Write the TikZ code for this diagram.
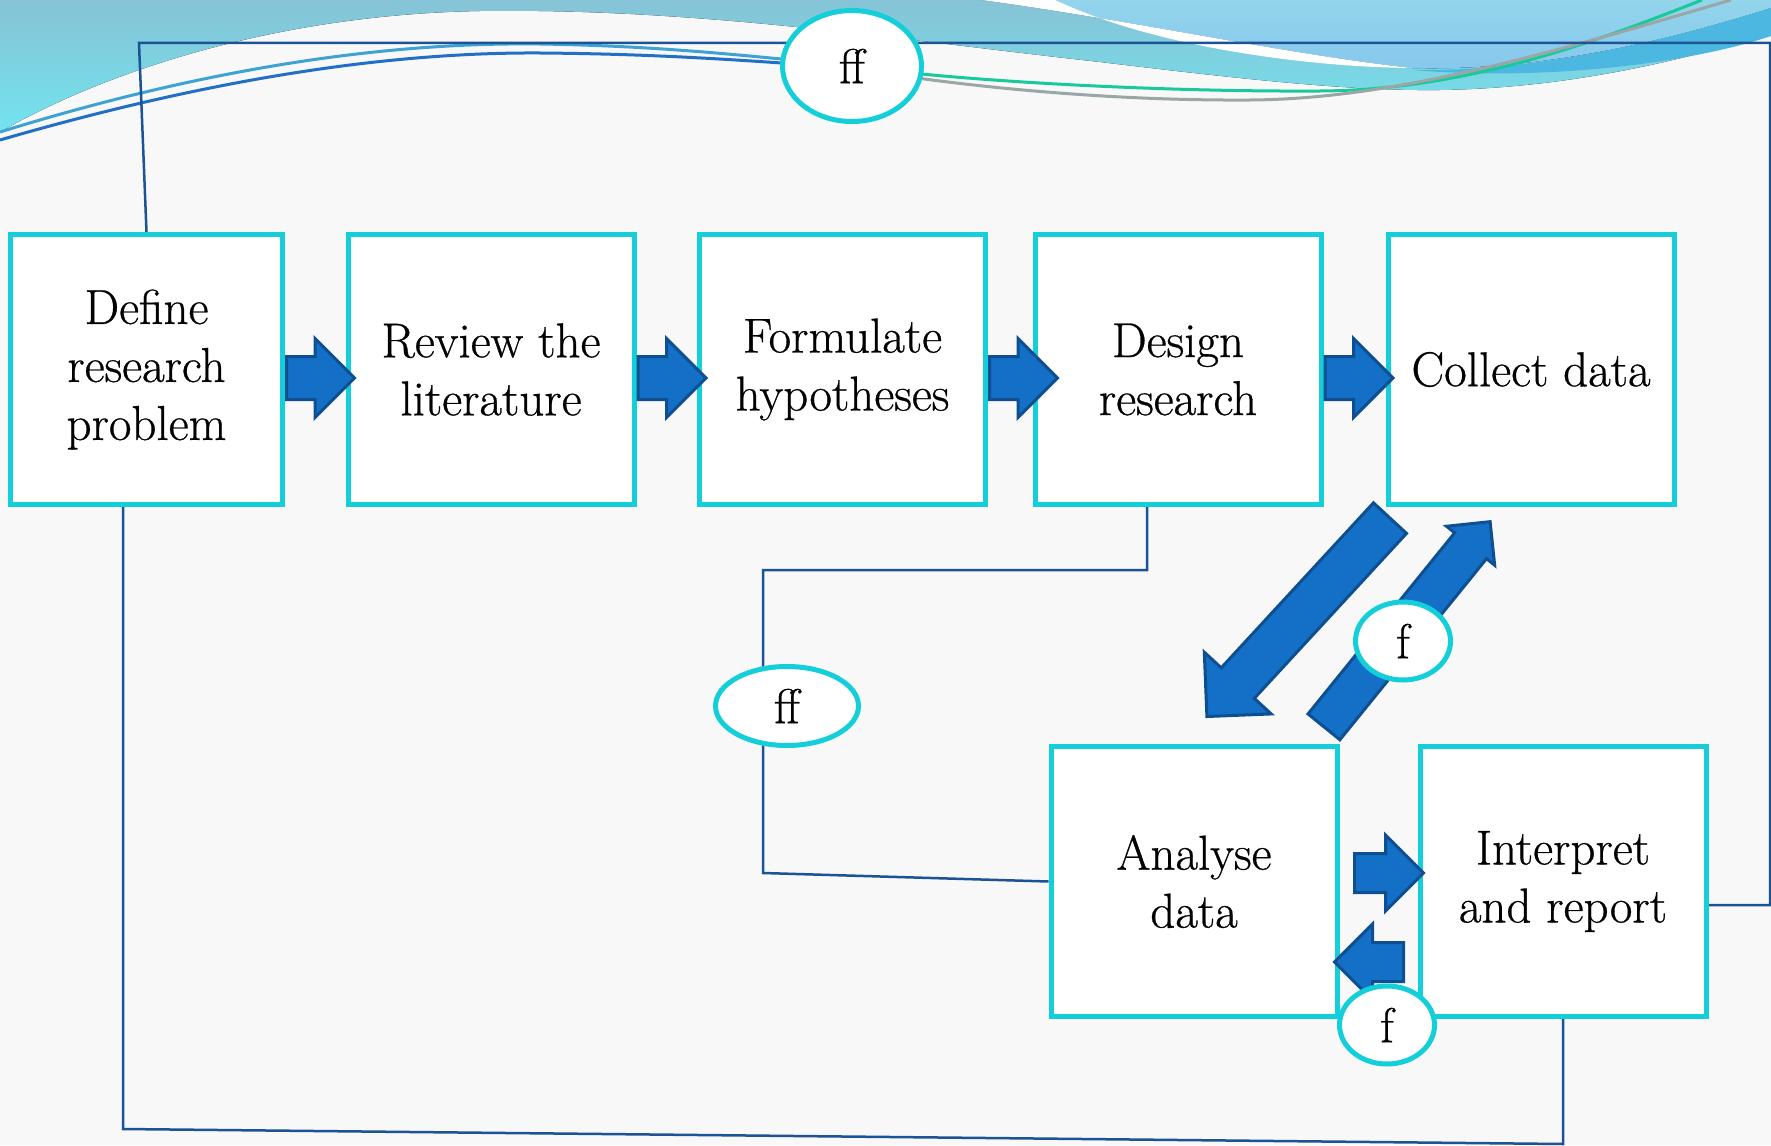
\documentclass[tikz,border=0pt]{standalone}
\usepackage{fontspec}
\usepackage{xcolor}
\usepackage{tikz}
\usetikzlibrary{calc}
\usetikzlibrary{shapes.geometric,shapes.arrows}

\newfontfamily\stepfont[FakeBold=0.6]{Latin Modern Roman}

\definecolor{boxline}{HTML}{14CFD9}
\definecolor{linkblue}{HTML}{1C5296}
\definecolor{arrowfill}{HTML}{1470C6}
\definecolor{arrowedge}{HTML}{0E4F92}
\definecolor{skytop}{HTML}{86C3D6}
\definecolor{skylow}{HTML}{72E4EE}
\definecolor{skylight}{HTML}{93D5EB}
\definecolor{skylens}{HTML}{86C7EE}
\definecolor{skybright}{HTML}{4CB7E0}
\definecolor{waveblue}{HTML}{3EA3D3}
\definecolor{wavedark}{HTML}{2170C5}
\definecolor{wavegreen}{HTML}{18C99B}
\definecolor{wavegray}{HTML}{9BA6A6}
\definecolor{paper}{HTML}{F8F8F8}

\pgfdeclarelayer{background}
\pgfsetlayers{background,main}

\tikzset{
  stepbox/.style={draw=boxline, line width=5pt, fill=white, align=center,
    inner sep=0pt, minimum width=286pt, minimum height=270pt,
    font=\stepfont\fontsize{49}{58}\selectfont},
  loopmark/.style={ellipse, draw=boxline, line width=5pt, fill=white,
    inner sep=0pt, font=\stepfont\fontsize{49}{58}\selectfont},
  link/.style={draw=linkblue, line width=2.5pt},
  fatarrow/.style={single arrow, draw=arrowedge, fill=arrowfill,
    line width=3pt, inner xsep=0pt, minimum width=0pt},
  wave/.style={line width=3pt}
}

\begin{document}
\begin{tikzpicture}[x=1pt,y=-1pt]
\useasboundingbox (0,0) rectangle (1771,1145);

\begin{pgfonlayer}{background}
\fill[paper] (0,0) rectangle (1771,1145);
% sky band at the top
\fill[top color=skytop, bottom color=skylow] (0,0) -- (0,132)
  .. controls (90,80) and (260,15) .. (480,11)
  .. controls (700,8) and (900,40) .. (1100,62)
  .. controls (1250,80) and (1350,91) .. (1440,90)
  .. controls (1580,88) and (1700,55) .. (1771,33) -- (1771,0) -- cycle;
\fill[top color=skylight, bottom color=skylens] (982,0)
  .. controls (1130,20) and (1290,55) .. (1412,68)
  .. controls (1560,72) and (1700,30) .. (1771,8) -- (1771,0) -- cycle;
\fill[skybright] (1412,70) .. controls (1560,72) and (1700,30) .. (1771,8)
  -- (1771,36) .. controls (1700,60) and (1560,82) .. (1412,70) -- cycle;
\fill[white] (982,0) .. controls (1130,20) and (1290,55) .. (1412,68)
  .. controls (1300,67) and (1150,45) .. (1055,0) -- cycle;
% thin swooshes
\draw[wave, waveblue] (0,132) .. controls (200,70) and (380,42) .. (540,44)
  .. controls (660,46) and (740,55) .. (852,66);
\draw[wave, wavedark] (0,140) .. controls (200,82) and (380,52) .. (540,53)
  .. controls (660,54) and (740,60) .. (852,68);
\draw[wave, wavegreen] (852,66) .. controls (950,80) and (1150,92) .. (1320,91)
  .. controls (1470,90) and (1600,40) .. (1702,0);
\draw[wave, wavegray] (852,68) .. controls (950,85) and (1100,101) .. (1250,100)
  .. controls (1400,99) and (1560,50) .. (1731,0);
\end{pgfonlayer}

% steps of the process
\node[stepbox, minimum width=272pt] (define) at (146.5,369.5) {Define\\research\\problem};
\node[stepbox] (review) at (491,369.5) {Review the\\literature};
\node[stepbox] (formulate) at (842.5,369.5) {Formulate\\hypotheses};
\node[stepbox] (design) at (1178,369.5) {Design\\research};
\node[stepbox] (collect) at (1531,369.5) {Collect data};
\node[stepbox] (analyse) at (1194,881.5) {Analyse\\data};
\node[stepbox] (interpret) at (1563,881.5) {Interpret\\and report};

% feedback lines
\coordinate (topleft) at (139,43);
\coordinate (topright) at (1770,43);
\coordinate (botleft) at (123,1129);
\coordinate (botright) at (1563,1144);
\coordinate (midhi) at (763,570);
\coordinate (midlo) at (763,873);
\begin{pgfonlayer}{background}
\draw[link] (define.north) -- (topleft) -- (topright) |- ([yshift=-23.5pt]interpret.east);
\draw[link] ([xshift=-23.5pt]define.south) -- (botleft) -- (botright) -- (interpret.south);
\draw[link] ([xshift=-31pt]design.south) |- (midhi) -- (midlo) -- (analyse.west);
\end{pgfonlayer}

% block arrows
\foreach \from/\n in {define/1,review/2,formulate/3,design/4} {
  \node[fatarrow, minimum height=68pt, inner ysep=20pt,
    single arrow head extend=18pt, anchor=tail] (step\n) at ([yshift=-8.5pt]\from.east) {};
}
\node[fatarrow, minimum height=69pt, inner ysep=18pt,
  single arrow head extend=18.5pt, anchor=tail] (fwd) at (1353,873) {};
\node[fatarrow, minimum height=69pt, inner ysep=18pt,
  single arrow head extend=18.5pt, shape border rotate=180, anchor=tail] (back) at (1405,962) {};
\node[fatarrow, minimum height=270pt, inner ysep=21pt,
  single arrow head extend=23pt, rotate=227.3, anchor=tail] (down) at (1391,517) {};
\node[fatarrow, minimum height=264pt, inner ysep=19pt,
  single arrow head extend=10.5pt, rotate=51, anchor=tail] (up) at (1323,728) {};

% loop marks
\node[loopmark, minimum width=139pt, minimum height=111pt] (ffTop) at (852,66) {ff};
\node[loopmark, minimum width=143pt, minimum height=79pt] (ffMid) at (787,706) {ff};
\node[loopmark, minimum width=95pt, minimum height=78pt] (fUp) at (1403,641) {f};
\node[loopmark, minimum width=95pt, minimum height=78pt] (fLow) at (1387,1025) {f};
\end{tikzpicture}
\end{document}
